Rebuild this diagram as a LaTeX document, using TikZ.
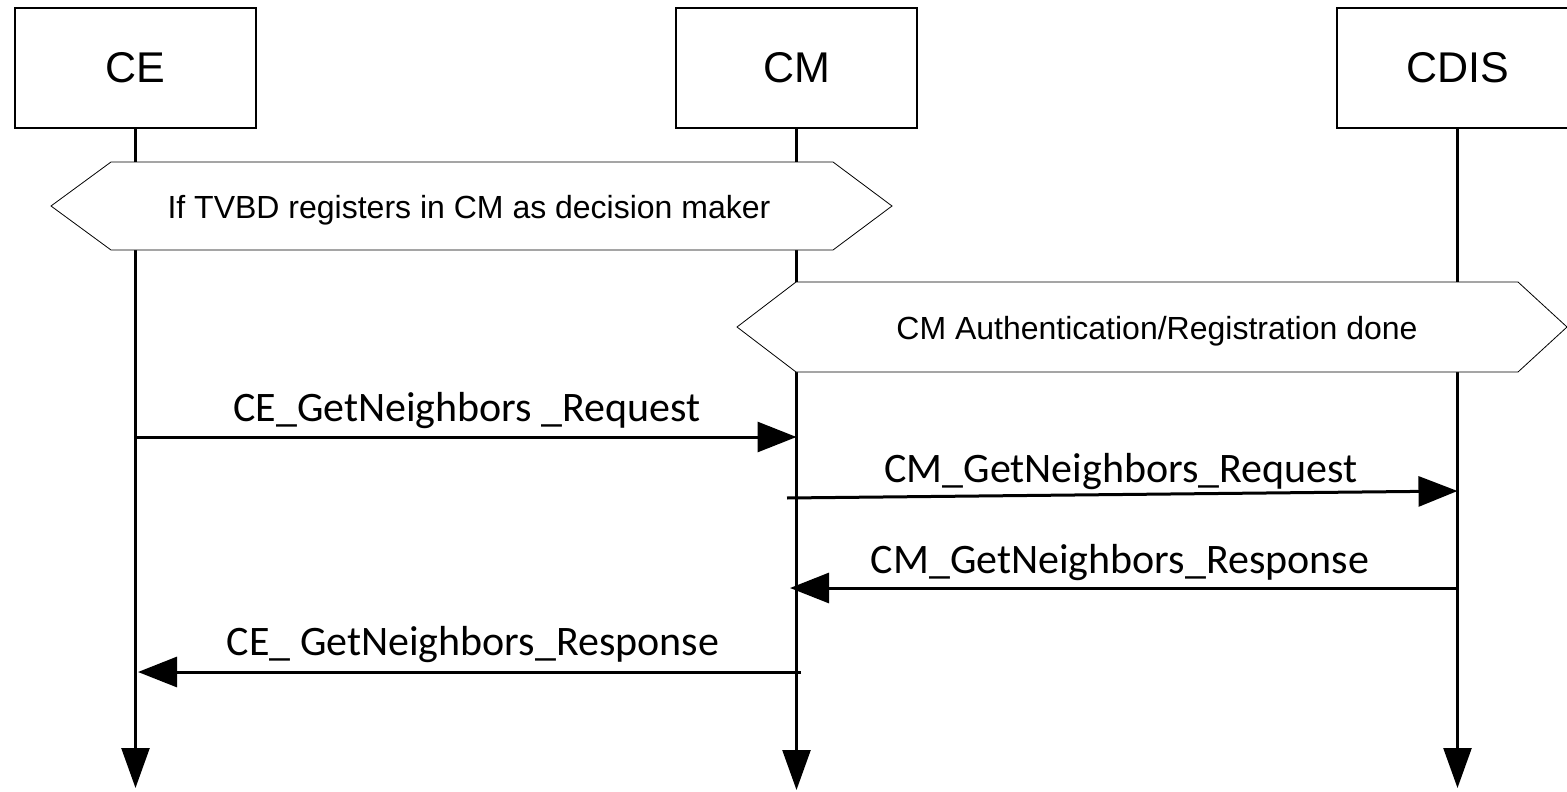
\documentclass[tikz,border=0pt]{standalone}
\usepackage{fontspec}
\setmainfont{Liberation Sans}
\newfontfamily\msgfont{Carlito}
\usetikzlibrary{arrows.meta}

\tikzset{
    entity/.style={draw, line width=2pt, minimum width=241pt, minimum height=120pt, inner sep=0pt, font=\fontsize{43}{50}\selectfont},
    lifeline/.style={line width=2.5pt, -{Triangle[length=40pt,width=28pt]}},
    msg/.style={line width=3pt, -{Triangle[length=39pt,width=30pt]}},
    msglabel/.style={anchor=base, inner sep=0pt, font=\msgfont\fontsize{42}{50}\selectfont},
    hexbox/.style={draw, line width=0.8pt, fill=white},
    hexlabel/.style={anchor=base, inner sep=0pt, font=\fontsize{32}{38}\selectfont},
}

\begin{document}
\begin{tikzpicture}[x=1pt,y=-1pt]
    \useasboundingbox (0,0) rectangle (1567,792);
    \node[entity] (CE) at (135.5,68) {CE};
    \node[entity] (CM) at (796.5,68) {CM};
    \node[entity] (CDIS) at (1457.5,68) {CDIS};
    \coordinate (CEend) at (135.5,788);
    \coordinate (CMend) at (796.5,790);
    \coordinate (CDISend) at (1457.5,788);
    \draw[lifeline] (CE.south) -- (CEend);
    \draw[lifeline] (CM.south) -- (CMend);
    \draw[lifeline] (CDIS.south) -- (CDISend);
    \draw[hexbox] (51,206) -- (111,162) -- (833,162) -- (892,206) -- (833,250) -- (111,250) -- cycle;
    \node[hexlabel] (cond1) at (469,218) {If TVBD registers in CM as decision maker};
    \draw[hexbox] (737,327) -- (796,282) -- (1518,282) -- (1567,327) -- (1518,372) -- (796,372) -- cycle;
    \node[hexlabel] (cond2) at (1157,339) {CM Authentication/Registration done};
    \coordinate (ceReqA) at (135.5,437);
    \coordinate (ceReqB) at (796.5,437);
    \coordinate (cmReqA) at (787,498);
    \coordinate (cmReqB) at (1457.5,491);
    \coordinate (cmRspA) at (1457.5,588);
    \coordinate (cmRspB) at (790,588);
    \coordinate (ceRspA) at (801,672);
    \coordinate (ceRspB) at (138,672);
    \draw[msg] (ceReqA) -- (ceReqB);
    \node[msglabel] (ceReq) at (467,421) {CE\_GetNeighbors \_Request};
    \draw[msg] (cmReqA) -- (cmReqB);
    \node[msglabel] (cmReq) at (1121,482) {CM\_GetNeighbors\_Request};
    \draw[msg] (cmRspA) -- (cmRspB);
    \node[msglabel] (cmRsp) at (1120,573) {CM\_GetNeighbors\_Response};
    \draw[msg] (ceRspA) -- (ceRspB);
    \node[msglabel] (ceRsp) at (473,655) {CE\_ GetNeighbors\_Response};
\end{tikzpicture}
\end{document}
